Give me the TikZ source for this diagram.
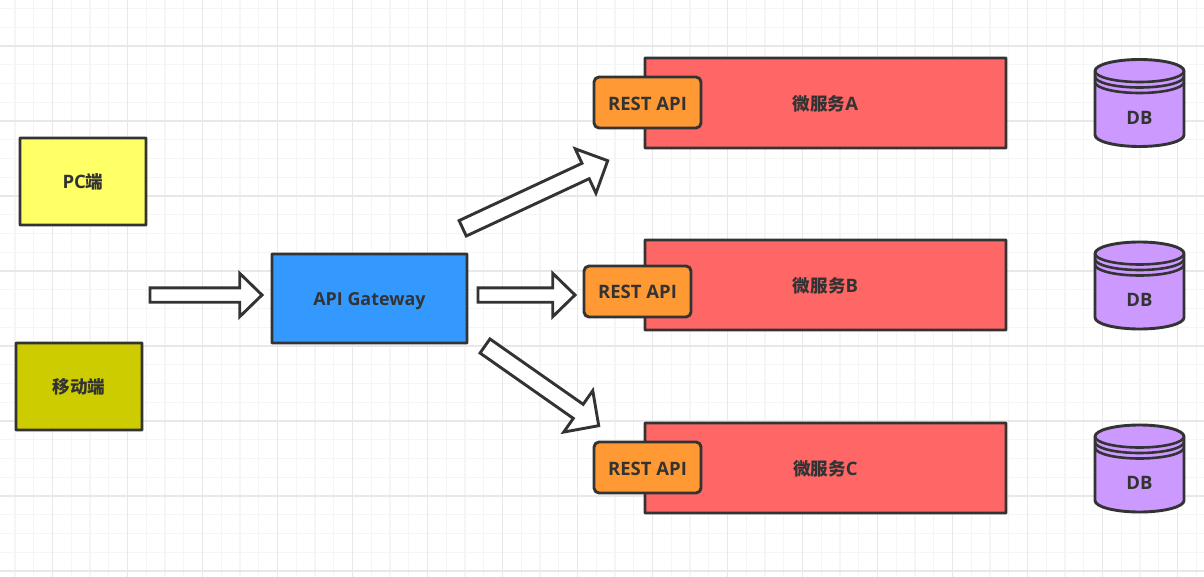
\documentclass[tikz,border=0pt]{standalone}
\usepackage{fontspec}
\setmainfont{Open Sans}
\newfontfamily\cjkfont[Scale=0.95]{Noto Sans CJK SC}
\usetikzlibrary{calc}
\definecolor{ink}{HTML}{333333}
\definecolor{gridmajor}{HTML}{E8E8E8}
\definecolor{gridminor}{HTML}{F5F5F5}
\definecolor{pcyellow}{HTML}{FFFF66}
\definecolor{mobolive}{HTML}{CCCC00}
\definecolor{gateblue}{HTML}{3399FF}
\definecolor{svcred}{HTML}{FF6666}
\definecolor{apiorange}{HTML}{FF9933}
\definecolor{dbpurple}{HTML}{CC99FF}
\newcommand{\lbl}[2][0]{\raisebox{\dimexpr-6.6pt-#1pt\relax}[0pt][0pt]{#2}}
\tikzset{
  x=1pt,y=-1pt,
  shape line/.style={draw=ink,line width=2.9pt,line join=round},
  labeltext/.style={text=ink,font=\bfseries\fontsize{18.5}{22}\selectfont,inner sep=0pt},
  boxnode/.style={shape line,rectangle,rounded corners=0.4pt,labeltext,anchor=center},
  apinode/.style={boxnode,fill=apiorange,rounded corners=5pt,minimum width=107pt,minimum height=51pt},
  svcnode/.style={boxnode,fill=svcred,minimum width=361pt,minimum height=90pt},
  clientnode/.style={boxnode,minimum width=126pt,minimum height=87pt},
  blockarrow/.style={shape line,fill=white,line join=miter},
  dblabel/.style={labeltext,minimum width=89pt,minimum height=20pt},
}
% tail, tip, shaft half width, head length, head half width
\newcommand{\blockarrow}[5]{%
  \coordinate (neck) at ($(#2)!#4pt!(#1)$);
  \draw[blockarrow]
    ($(#1)!#3pt!90:(#2)$) -- ($(neck)!#3pt!90:(#2)$) -- ($(neck)!#5pt!90:(#2)$) -- (#2)
    -- ($(neck)!#5pt!-90:(#2)$) -- ($(neck)!#3pt!-90:(#2)$) -- ($(#1)!#3pt!-90:(#2)$) -- cycle;
}
% name, centre x, top y
\newcommand{\dbstack}[3]{%
  \draw[shape line,fill=dbpurple]
    (#2-44.5,#3+11.5) arc[x radius=44.5,y radius=11.5,start angle=180,end angle=360]
    -- (#2+44.5,#3+75.5) arc[x radius=44.5,y radius=11.5,start angle=0,end angle=180] -- cycle;
  \draw[shape line,line width=2.6pt] (#2-44.5,#3+11.5) arc[x radius=44.5,y radius=11,start angle=180,end angle=0];
  \draw[shape line,line width=2.6pt] (#2-44.5,#3+17) arc[x radius=44.5,y radius=11,start angle=180,end angle=0];
  \draw[shape line,line width=2.6pt] (#2-44.5,#3+22.5) arc[x radius=44.5,y radius=11,start angle=180,end angle=0];
  \node[dblabel] (#1) at (#2,#3+58) {\lbl{DB}};
}
\begin{document}
\begin{tikzpicture}
\useasboundingbox (0,0) rectangle (1204,577);
\fill[white] (0,0) rectangle (1204,577);
% minor grid
\foreach \k in {0,...,64} \draw[gridminor,line width=1.1pt] ({-3.75+18.75*\k},0) -- ++(0,577);
\foreach \k in {0,...,30} \draw[gridminor,line width=1.1pt] (0,{8.5+18.75*\k}) -- ++(1204,0);
% major grid
\foreach \k in {0,...,15} \draw[gridmajor,line width=1.1pt] ({52.5+75*\k},0) -- ++(0,577);
\foreach \k in {0,...,7} \draw[gridmajor,line width=1.1pt] (0,{46+75*\k}) -- ++(1204,0);

% clients
\node[clientnode,fill=pcyellow] (pc) at (83,181.5) {\lbl[0.5]{PC{\cjkfont 端}}};
\node[clientnode,fill=mobolive] (mobile) at (79,386.5) {\lbl[0.5]{{\cjkfont 移动端}}};
% gateway
\node[boxnode,fill=gateblue,minimum width=195pt,minimum height=89pt] (gateway) at (369.5,298.5) {\lbl{\fontsize{17.9}{22}\selectfont API Gateway}};
% services
\node[svcnode] (svcA) at (825.5,103) {\lbl[1]{{\cjkfont 微服务}A}};
\node[svcnode] (svcB) at (825.5,285) {\lbl[1]{{\cjkfont 微服务}B}};
\node[svcnode] (svcC) at (825.5,468) {\lbl[1]{{\cjkfont 微服务}C}};
% APIs
\node[apinode] (apiA) at (647.5,102.5) {\lbl[1]{REST API}};
\node[apinode] (apiB) at (637.5,291.5) {\lbl{REST API}};
\node[apinode] (apiC) at (647.5,467.5) {\lbl[1]{REST API}};
% databases
\dbstack{dbA}{1139.5}{59.5}
\dbstack{dbB}{1139.5}{242}
\dbstack{dbC}{1139.5}{425}
% block arrows
\coordinate (clientTail) at (150,295);
\coordinate (clientTip) at (262,295);
\coordinate (upTail) at (462.7,228.3);
\coordinate (upTip) at (607.7,160.7);
\coordinate (midTail) at (478,295);
\coordinate (midTip) at (575,295);
\coordinate (downTail) at (485,346);
\coordinate (downTip) at (598.7,425.7);
\blockarrow{clientTail}{clientTip}{7.2}{22.3}{21.7}
\blockarrow{upTail}{upTip}{8.5}{24.4}{24.5}
\blockarrow{midTail}{midTip}{7.2}{22.3}{21.7}
\blockarrow{downTail}{downTip}{8.6}{25}{25.3}
\end{tikzpicture}
\end{document}
